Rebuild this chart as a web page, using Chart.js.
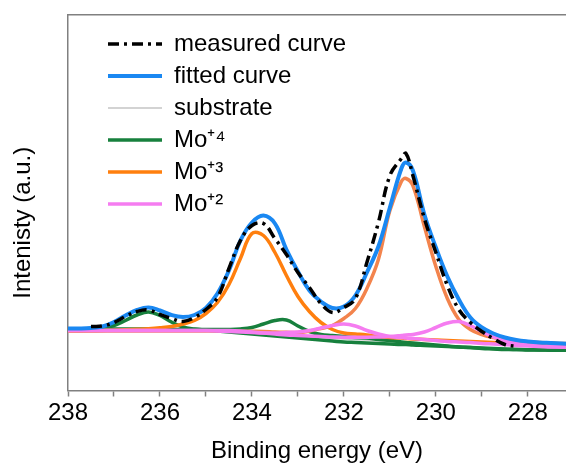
<!DOCTYPE html>
<html>
<head>
<meta charset="utf-8">
<script src="https://cdn.jsdelivr.net/npm/chart.js@4"></script>
<style>
  html, body { margin: 0; padding: 0; background: #fff; }
  #wrap { width: 566px; height: 470px; }
</style>
</head>
<body>
<div id="wrap"><canvas id="xpsChart"></canvas></div>
<script>
// binding energy grid (eV)
const energies = [238, 237.75, 237.5, 237.25, 237, 236.75, 236.5, 236.25, 236, 235.75, 235.5, 235.25, 235, 234.75, 234.5, 234.25, 234, 233.75, 233.5, 233.25, 233, 232.75, 232.5, 232.25, 232, 231.75, 231.5, 231.25, 231, 230.75, 230.65, 230.5, 230.25, 230, 229.75, 229.5, 229.25, 229, 228.75, 228.5, 228.25, 228, 227.75, 227.5, 227.25, 227];

// intensities (a.u.)
const measured = [null, null, 64, 64.5, 68, 74, 79, 80.5, 76, 72, 69, 73, 81, 93, 122, 150, 165, 167, 152, 136, 118, 103, 87, 78, 83, 92, 128, 168, 215, 232, 237, 215, 172, 138, 105, 81, 68, 59, 52, 46, 44, null, null, null, null, null];
const fitted = [62, 62, 62.5, 64, 68.5, 75, 80.5, 83, 80, 75.5, 73.5, 75.5, 82.5, 97, 120, 150, 168, 175, 167, 141, 119, 100, 89, 82.5, 84, 95, 118, 144, 183, 222, 228, 220, 176, 143, 114, 91, 73, 63, 57, 53, 50.5, 49, 48, 47.5, 47, 46.5];
const substrate = [60, 60, 60, 60, 60, 60, 60, 59.8, 59.6, 59.6, 59.5, 59.5, 59.4, 59.2, 59, 58.5, 58, 57, 56, 55, 54.5, 53.5, 53, 52, 51.5, 51, 50.5, 50, 49, 48, 47.5, 47, 45.5, 44.5, 44, 43, 42.5, 42, 42, 42, 41.8, 41.6, 41.5, 41.5, 41.5, 41.5];
// each oxidation state is a doublet, drawn as two curves
const mo4a = [61.5, 61.5, 62, 62.5, 65, 70, 75.5, 78.5, 75, 68.5, 63.5, 61.5, 60.5, 59.5, 58.5, 57.5, 56.5, 55.5, 54.5, 53.5, 52.5, 51.5, 50.5, 49.5, 48.5, 48, 47.5, 47, 46.5, 46, 46, 45.5, 45, 44.5, 44, 43.5, 43, 42, 41.5, 41, 41, 40.5, 40.5, 40.3, 40.2, 40];
const mo4b = [61.5, 61.5, 61.5, 61.5, 61.5, 61.5, 61.5, 61.5, 61.2, 61.2, 61, 61, 61, 61, 61, 61.5, 63, 66.5, 70, 70.5, 64.5, 59, 56, 55, 54, 53, 52.5, 51, 50, 48.5, 48, 47.5, 46.5, 45.5, 44.5, 43.5, 43, 42.5, 42, 41.5, 41, 40.8, 40.5, 40.3, 40.2, 40];
const mo3a = [59.5, 59.5, 59.7, 60, 60.3, 60.7, 61.2, 61.8, 62.7, 64, 66.5, 70, 77, 88, 106, 132, 157, 155, 138, 115, 94, 79, 68, 61, 57.5, 56.5, 55.5, 54, 53, 52.5, 52, 51.5, 51, 50.5, 50, 49.5, 49, 48.5, 48, 47.5, 47, 46.8, 46.5, 46.3, 46, 46];
const mo3b = [59.5, 59.5, 59.5, 59.5, 59.5, 59.5, 59.5, 59.5, 59.5, 59.5, 59.5, 59.5, 59.5, 59.5, 59.5, 59.3, 59.2, 59, 58.5, 58.2, 58, 59.5, 62, 65, 72, 82, 102, 131, 180, 209, 212, 205, 164, 124, 92, 71, 61, 56, 53, 51, 49.5, 48.5, 48, 47.5, 47, 47];
const mo2a = [60, 60, 60, 60, 60, 60, 60, 60, 60, 60, 60, 60, 60, 59.5, 59, 58.5, 58, 57.5, 57.5, 58, 58.5, 60, 62.5, 65, 66.5, 64.5, 60, 56.5, 54, 53, 52.5, 52, 51, 50, 49, 48.5, 48, 47, 46.5, 46, 45, 44.5, 44, 43.5, 43.3, 43];
const mo2b = [60, 60, 60, 60, 60, 60, 60, 60, 60, 60, 60, 60, 60, 60, 60, 59.5, 58.5, 57.5, 56.5, 55.5, 55, 54.5, 54, 53.5, 53.3, 53.3, 53.3, 53.5, 54, 55, 55.5, 56, 58.5, 63, 67.5, 69, 65, 59, 53.5, 49.5, 47, 45.5, 44.5, 44, 43.5, 43.3];

const xTicks = [238, 237, 236, 235, 234, 233, 232, 231, 230, 229, 228];

const AXIS = '#808080';
Chart.defaults.font.family = "'Liberation Sans', Arial, sans-serif";
Chart.defaults.color = '#000';

const pts = (vals) => energies.map((e, i) => ({ x: e, y: vals[i] }));
const curve = (label, vals, color, width, extra) => Object.assign({
  label, data: pts(vals), borderColor: color, backgroundColor: color,
  borderWidth: width, pointRadius: 0, tension: 0.4, fill: false
}, extra || {});

// legend sits inside the plot, a bit in from the corner
const legendShift = {
  id: 'legendShift',
  afterLayout(chart) {
    chart.legend.left += 32;
    chart.legend.top += 24;
  }
};

// point-style legend items lose the dataset dash, put it back
const legendItems = (chart) => {
  const items = Chart.defaults.plugins.legend.labels.generateLabels(chart);
  items.forEach(item => {
    const ds = chart.data.datasets[item.datasetIndex];
    item.lineDash = ds.borderDash || [];
    item.lineWidth = ds.borderWidth;
    item.strokeStyle = ds.borderColor;
  });
  return items;
};

new Chart(document.getElementById('xpsChart'), {
  type: 'line',
  data: {
    datasets: [
      curve('measured curve', measured, '#000000', 3.5, { borderDash: [11, 5, 3, 5], order: 0 }),
      curve('fitted curve', fitted, '#1a88f2', 4, { order: 1 }),
      curve('substrate', substrate, '#c4c4c4', 1.5, { order: 9 }),
      curve('Mo\u207A\u2074', mo4a, '#17803d', 3.5, { order: 6 }),
      curve('Mo\u207A\u00B3', mo3a, '#ff7f0e', 3.5, { order: 5 }),
      curve('Mo\u207A\u00B2', mo2a, '#f57cf0', 3.5, { order: 3 }),
      curve('Mo4 b', mo4b, '#17803d', 3.5, { order: 7, legendSkip: true }),
      curve('Mo3 b', mo3b, '#f3844d', 3.5, { order: 4, legendSkip: true }),
      curve('Mo2 b', mo2b, '#f57cf0', 3.5, { order: 2, legendSkip: true })
    ]
  },
  options: {
    responsive: true,
    maintainAspectRatio: false,
    animation: false,
    events: [],
    layout: { padding: { top: 15, right: 0, bottom: 0, left: 0 } },
    plugins: {
      tooltip: { enabled: false },
      legend: {
        position: 'chartArea',
        align: 'start',
        labels: {
          usePointStyle: true,
          pointStyle: 'line',
          pointStyleWidth: 54,
          padding: 8,
          color: '#000',
          font: { size: 24 },
          generateLabels: legendItems,
          sort: (a, b) => a.datasetIndex - b.datasetIndex,
          filter: (item, data) => !data.datasets[item.datasetIndex].legendSkip
        }
      }
    },
    scales: {
      x: {
        type: 'linear',
        reverse: true,
        min: 227.17,
        max: 238,
        afterBuildTicks: (s) => { s.ticks = xTicks.map(v => ({ value: v })); },
        afterFit: (s) => { s.height = 79.5; },
        ticks: {
          padding: 2,
          font: { size: 24 },
          color: '#000',
          callback: (v) => (v % 2 === 0 ? String(v) : '')
        },
        grid: { drawOnChartArea: false, drawTicks: true, tickLength: 6, tickWidth: 1.5, tickColor: AXIS },
        border: { display: true, color: AXIS, width: 1.5 },
        title: { display: true, text: 'Binding energy (eV)', font: { size: 24 }, color: '#000', padding: { top: 0, bottom: 4.6 } }
      },
      x2: {
        type: 'linear',
        position: 'top',
        reverse: true,
        min: 227.17,
        max: 238,
        afterFit: (s) => { s.height = 0; },
        ticks: { display: false },
        grid: { display: false, drawTicks: false },
        border: { display: true, color: AXIS, width: 1.5 }
      },
      y: {
        type: 'linear',
        min: 0,
        max: 375.5,
        afterFit: (s) => { s.width = 68; },
        ticks: { display: false },
        grid: { display: false, drawTicks: false },
        border: { display: true, color: AXIS, width: 1.5 },
        title: { display: true, text: 'Intenisty (a.u.)      ', font: { size: 24 }, color: '#000', padding: { top: 8.6, bottom: 0 } }
      }
    }
  },
  plugins: [legendShift]
});
</script>
</body>
</html>
